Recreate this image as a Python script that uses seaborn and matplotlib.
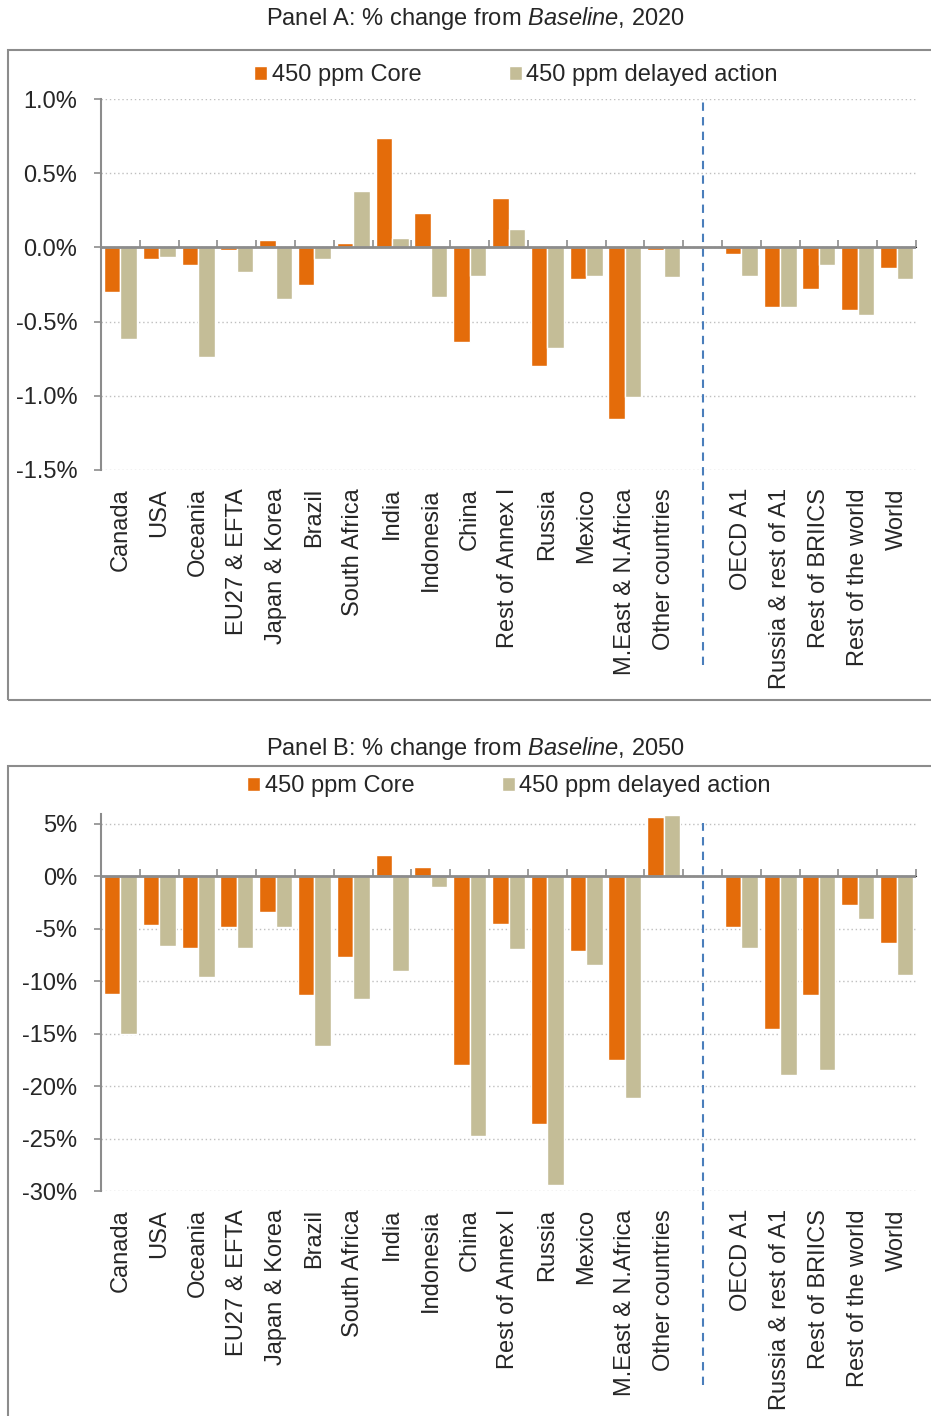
import pandas as pd
import matplotlib
matplotlib.use("Agg")
import matplotlib.pyplot as plt
import seaborn as sns
from matplotlib.patches import Rectangle
from matplotlib.ticker import FuncFormatter

# regions shown on the x axis (a blank slot separates countries from aggregates)
regions = ["Canada", "USA", "Oceania", "EU27 & EFTA", "Japan & Korea", "Brazil",
           "South Africa", "India", "Indonesia", "China", "Rest of Annex I", "Russia",
           "Mexico", "M.East & N.Africa", "Other countries",
           "OECD A1", "Russia & rest of A1", "Rest of BRIICS", "Rest of the world", "World"]
scenarios = ["450 ppm Core", "450 ppm delayed action"]

# Panel A, % change from baseline in 2020
core_2020 = [-0.30, -0.08, -0.12, -0.015, 0.05, -0.25, 0.03, 0.735, 0.235, -0.64,
             0.335, -0.80, -0.215, -1.155, -0.018, -0.042, -0.40, -0.277, -0.423, -0.142]
delayed_2020 = [-0.615, -0.066, -0.737, -0.164, -0.347, -0.08, 0.38, 0.064, -0.334, -0.19,
                0.126, -0.677, -0.19, -1.007, -0.20, -0.19, -0.40, -0.117, -0.458, -0.215]

# Panel B, % change from baseline in 2050
core_2050 = [-11.2, -4.6, -6.8, -4.8, -3.4, -11.3, -7.7, 2.0, 0.9, -18.0,
             -4.5, -23.6, -7.1, -17.5, 5.7, -4.8, -14.6, -11.3, -2.7, -6.4]
delayed_2050 = [-15.0, -6.6, -9.6, -6.8, -4.8, -16.2, -11.7, -9.0, -1.0, -24.8,
                -6.9, -29.4, -8.5, -21.1, 5.85, -6.8, -18.9, -18.5, -4.1, -9.4]

ORANGE = "#E46C0A"
BEIGE = "#C4BD97"
GREY = "#8c8c8c"

sns.set_style("white")
plt.rcParams["font.family"] = ["Liberation Sans", "DejaVu Sans"]
plt.rcParams["mathtext.fontset"] = "custom"
plt.rcParams["mathtext.rm"] = "Liberation Sans"
plt.rcParams["mathtext.it"] = "Liberation Sans:italic"
plt.rcParams["axes.unicode_minus"] = False

FS = 17
W, H = 931, 1416
order = regions[:15] + [" "] + regions[15:]


def make_df(core, delayed):
    return pd.DataFrame({
        "region": regions * 2,
        "scenario": [scenarios[0]] * len(regions) + [scenarios[1]] * len(regions),
        "value": core + delayed,
    })


def draw_panel(fig, ax, df, ylim, ticks, fmt, legend_xy, dash_span):
    sns.barplot(data=df, x="region", y="value", hue="scenario", order=order,
                hue_order=scenarios, palette=[ORANGE, BEIGE], width=0.85,
                saturation=1, errorbar=None, ax=ax)
    ax.set_xlim(-0.5, len(order) - 0.5)
    ax.set_ylim(*ylim)
    ax.set_yticks(ticks)
    ax.yaxis.set_major_formatter(FuncFormatter(fmt))
    ax.set_xlabel("")
    ax.set_ylabel("")
    ax.set_xticks(range(len(order)))
    ax.set_xticklabels(order, rotation=90, fontsize=FS, va="top", ha="center")
    ax.tick_params(axis="x", length=0, pad=13)
    ax.tick_params(axis="y", length=5, width=1.2, color=GREY, direction="out",
                   pad=12, labelsize=FS, left=True)
    for s in ["top", "right", "bottom"]:
        ax.spines[s].set_visible(False)
    ax.spines["left"].set_color(GREY)
    ax.spines["left"].set_linewidth(1.5)
    ax.yaxis.grid(True, linestyle=(0, (1, 2)), color="#bfbfbf", lw=1)
    ax.set_axisbelow(True)

    # zero line with category boundary ticks
    ax.axhline(0, color=GREY, lw=2, zorder=4)
    zero_frac = (0 - ylim[0]) / (ylim[1] - ylim[0])
    sec = ax.secondary_xaxis(zero_frac)
    sec.set_xticks([i - 0.5 for i in range(len(order) + 1)])
    sec.set_xticklabels([])
    sec.tick_params(length=5, width=1.2, color=GREY, direction="out")
    sec.spines["bottom"].set_visible(False)

    ax.axvline(order.index(" "), ymin=dash_span[0], ymax=dash_span[1], clip_on=False,
               color="#4a7ebb", ls=(0, (4, 3)), lw=1.5)

    sns.move_legend(ax, "center", bbox_to_anchor=legend_xy, bbox_transform=fig.transFigure,
                    ncol=2, frameon=False, title=None, fontsize=FS,
                    handlelength=0.55, handleheight=0.55, handletextpad=0.2,
                    columnspacing=3.7)


fig = plt.figure(figsize=(W / 100, H / 100), dpi=100)

# panel frames
fig.add_artist(Rectangle((8 / W, 1 - 700 / H), 1.0, 650 / H, transform=fig.transFigure,
                         fill=False, ec=GREY, lw=1.5))
fig.add_artist(Rectangle((8 / W, -0.01), 1.0, 650 / H + 0.01, transform=fig.transFigure,
                         fill=False, ec=GREY, lw=1.5))

ax1 = fig.add_axes([101 / W, 1 - 470 / H, 815 / W, 371 / H])
draw_panel(fig, ax1, make_df(core_2020, delayed_2020), (-1.5, 1.0),
           [-1.5, -1.0, -0.5, 0.0, 0.5, 1.0], lambda v, p: f"{v:.1f}%",
           (516 / W, 1 - 75 / H), (-0.526, 1.0))

ax2 = fig.add_axes([101 / W, 1 - 1191 / H, 815 / W, 377 / H])
draw_panel(fig, ax2, make_df(core_2050, delayed_2050), (-30, 5.94),
           [-30, -25, -20, -15, -10, -5, 0, 5], lambda v, p: f"{v:.0f}%",
           (509 / W, 1 - 786 / H), (-0.515, 0.976))

fig.text(475 / W, 1 - 18 / H, r"Panel A: % change from $\it{Baseline}$, 2020",
         ha="center", va="center", fontsize=FS)
fig.text(475 / W, 1 - 749 / H, r"Panel B: % change from $\it{Baseline}$, 2050",
         ha="center", va="center", fontsize=FS)

fig.savefig("out.png", dpi=100)
